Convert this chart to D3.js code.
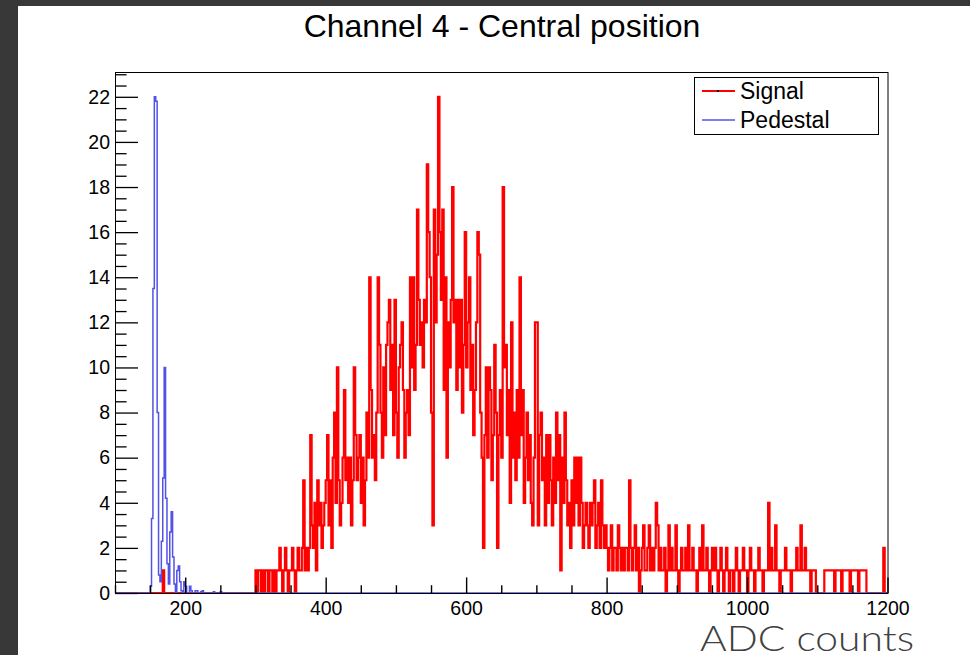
<!DOCTYPE html>
<html><head><meta charset="utf-8">
<script src="https://cdn.jsdelivr.net/npm/d3@7"></script>
<style>html,body{margin:0;padding:0;background:#fff;}svg{display:block;}</style>
</head><body>
<svg id="c" width="970" height="655"></svg>
<script>
// ---------------- data ----------------
const title = "Channel 4 - Central position";
const xLabel = "ADC counts";
const seriesNames = ["Signal", "Pedestal"];
const binWidth = 2;
const xDomain = [100, 1200];
const yMax = 23.1;
const xMajorTicks = [200, 400, 600, 800, 1000, 1200];
const yMajorTicks = [0, 2, 4, 6, 8, 10, 12, 14, 16, 18, 20, 22];

// Signal counts, bins of width 2 starting at 300
const signalStart = 300;
const signalCounts = [
  1,0,1,1,0,1,0,1,1,0,  1,1,0,1,0,1,1,2,1,0,  1,2,1,0,1,1,2,1,0,1,
  2,1,1,2,5,1,2,1,2,7,  3,2,4,1,5,3,4,2,3,4,  5,7,3,5,2,6,8,4,10,5,
  3,4,6,9,5,6,4,6,3,5,  10,7,5,6,7,4,6,3,5,8, 6,14,9,6,7,5,8,14,11,8,
  6,10,7,11,12,13,9,11,7,13, 8,6,10,11,12,9,6,8,9,7, 14,10,14,9,11,17,13,11,12,10,
  13,12,19,16,14,8,3,17,12,15, 22,16,13,17,9,14,6,12,10,13, 18,12,13,9,13,10,13,8,11,16,
  10,12,14,9,11,7,9,12,16,15, 8,6,2,7,10,6,10,9,5,7, 11,8,2,7,9,6,18,10,11,7,
  9,4,12,6,8,5,9,6,14,7,  9,4,6,8,5,7,4,3,6,12,  12,3,7,8,5,6,3,7,4,7,
  5,3,6,4,8,5,7,1,6,4,  8,5,3,4,2,5,3,6,4,6,  3,6,4,2,3,4,3,2,4,3,
  4,5,2,3,4,2,5,3,2,3,  2,1,2,3,1,2,2,1,3,2,  1,2,1,2,2,1,5,2,1,2,
  3,1,2,0,1,2,3,1,1,2,  3,1,2,1,2,4,3,1,2,1,  1,2,0,1,3,1,2,1,1,3,
  1,0,1,2,1,1,2,1,3,1,  1,2,1,1,0,1,2,1,3,1,  1,2,1,0,1,2,1,2,1,0,
  1,2,1,0,1,2,1,0,1,1,  0,1,2,1,0,1,1,2,1,1,  0,1,2,1,1,0,1,1,2,1,
  1,0,1,1,1,4,1,2,1,1,  3,1,1,0,1,1,1,2,1,1,  1,0,1,1,1,2,1,1,3,1,
  1,2,1,1,1,0,1,1,1,0,  0,0,0,0,0,1,1,1,1,1,  1,1,0,1,1,1,1,0,1,1,
  1,1,1,0,1,1,1,1,1,0,  1,1,1,1,1,0,0,0,0,0,  0,0,0,0,0,0,0,2,0,0
];
// isolated signal entries below 300: [bin start, count]
const signalLowBins = [[168, 1]];

// Pedestal (scaled), bins of width 2 starting at 150
const pedestalStart = 150;
const pedestalValues = [
  0.3,3.3,13.5,22.0,21.8,8.0,0.8,0.5,2.3,5.1,
  10.0,4.2,1.3,0.4,2.7,3.6,1.6,0.4,0.0,1.0,
  1.2,0.5,0.1,0.0,0.5,0.3,0.0,0.0,0.3,0.1,
  0,0,0.1,0.1,0,0,0.05,0.1,0,0,
  0,0,0,0,0,0.05,0,0,0,0,0.05
];

// ---------------- build bin tables ----------------
function fullBins(lookup) {
  const out = [];
  for (let b = xDomain[0]; b < xDomain[1]; b += binWidth) out.push({x0: b, v: lookup(b)});
  return out;
}
const lowMap = new Map(signalLowBins);
const signalBins = fullBins(b => {
  if (b >= signalStart) { const i = (b - signalStart) / binWidth; return signalCounts[i] ?? 0; }
  return lowMap.get(b) ?? 0;
});
const pedestalBins = fullBins(b => {
  const i = (b - pedestalStart) / binWidth;
  return (i >= 0 && i < pedestalValues.length) ? pedestalValues[i] : 0;
});

// ---------------- drawing ----------------
const svg = d3.select("#c");
const W = 970, H = 655;
const L = 115, R = 887.5, T = 72, B = 593;

// slide background
svg.append("rect").attr("x",0).attr("y",0).attr("width",W).attr("height",H).attr("fill","#383838");
svg.append("rect").attr("x",18).attr("y",6).attr("width",W-18).attr("height",H-6).attr("fill","#ffffff");

const x = d3.scaleLinear().domain(xDomain).range([L, R]);
const y = d3.scaleLinear().domain([0, yMax]).range([B, T]);

// title
svg.append("text").attr("x", 502).attr("y", 37).attr("text-anchor","middle")
  .attr("font-family","Liberation Sans, Arial, sans-serif").attr("font-size", 32)
  .attr("fill","#000").text(title);

// histograms
const stepLine = d3.line().x(d => d[0]).y(d => d[1]).curve(d3.curveStepAfter);
function histPath(bins) {
  const pts = bins.map(b => [x(b.x0), y(b.v)]);
  const last = bins[bins.length-1];
  pts.push([x(last.x0 + binWidth), y(last.v)]);
  return stepLine(pts);
}
svg.append("path").attr("d", histPath(signalBins)).attr("fill","none")
  .attr("stroke","#ff0000").attr("stroke-width",2.2);
svg.append("path").attr("d", histPath(pedestalBins)).attr("fill","none")
  .attr("stroke","#5252e6").attr("stroke-width",1.5);

// frame
svg.append("rect").attr("x",L+0.5).attr("y",T+0.5).attr("width",R-L).attr("height",B-T)
  .attr("fill","none").attr("stroke","#000").attr("stroke-width",1);

// x axis ticks (inward)
const xMinor = d3.range(xDomain[0], xDomain[1]+1, 50).filter(v => !xMajorTicks.includes(v));
const axX = d3.axisBottom(x).tickValues(xMajorTicks).tickSizeInner(-15.6).tickSizeOuter(0).tickPadding(22).tickFormat(d3.format("d"));
const gx = svg.append("g").attr("transform",`translate(0,${B})`).call(axX);
gx.select(".domain").remove();
gx.selectAll("text").attr("font-family","Liberation Sans, Arial, sans-serif").attr("font-size",19.5).attr("fill","#000").attr("dy","0");
gx.selectAll("line").attr("stroke","#000").attr("stroke-width",1.4);
const axXm = d3.axisBottom(x).tickValues(xMinor).tickSizeInner(-7.8).tickSizeOuter(0).tickFormat("");
const gxm = svg.append("g").attr("transform",`translate(0,${B})`).call(axXm);
gxm.select(".domain").remove();
gxm.selectAll("line").attr("stroke","#000").attr("stroke-width",1.4);

// y axis ticks (inward)
const yMinor = d3.range(0, 23.01, 0.5).filter(v => !yMajorTicks.includes(v));
const axY = d3.axisLeft(y).tickValues(yMajorTicks).tickSizeInner(-23).tickSizeOuter(0).tickPadding(5).tickFormat(d3.format("d"));
const gy = svg.append("g").attr("transform",`translate(${L},0)`).call(axY);
gy.select(".domain").remove();
gy.selectAll("text").attr("font-family","Liberation Sans, Arial, sans-serif").attr("font-size",19.5).attr("fill","#000").attr("dx","0");
gy.selectAll("line").attr("stroke","#000").attr("stroke-width",1.3);
const axYm = d3.axisLeft(y).tickValues(yMinor).tickSizeInner(-11.6).tickSizeOuter(0).tickFormat("");
const gym = svg.append("g").attr("transform",`translate(${L},0)`).call(axYm);
gym.select(".domain").remove();
gym.selectAll("line").attr("stroke","#000").attr("stroke-width",1.3);

// legend
const lg = svg.append("g");
lg.append("rect").attr("x",694.5).attr("y",77.5).attr("width",184).attr("height",57)
  .attr("fill","#fff").attr("stroke","#000").attr("stroke-width",1);
const legendColors = ["#ff0000", "#5252e6"];
seriesNames.forEach((n, i) => {
  const yy = 91 + i*29;
  lg.append("line").attr("x1",702).attr("x2",735).attr("y1",yy).attr("y2",yy)
    .attr("stroke",legendColors[i]).attr("stroke-width", i===0 ? 2 : 1.5);
  if (i === 0) lg.append("rect").attr("x",717).attr("y",yy-1).attr("width",2).attr("height",2).attr("fill","#000");
  lg.append("text").attr("x",740).attr("y",yy+8).attr("font-family","Liberation Sans, Arial, sans-serif")
    .attr("font-size",23).attr("fill","#000").text(n);
});

// slide caption
svg.append("text").attr("x",700).attr("y",651).attr("font-family","Lato, 'Open Sans', sans-serif")
  .attr("font-weight",300).attr("font-size",35).attr("fill","#404040")
  .attr("textLength",214).attr("lengthAdjust","spacingAndGlyphs").text(xLabel);
</script>
</body></html>
